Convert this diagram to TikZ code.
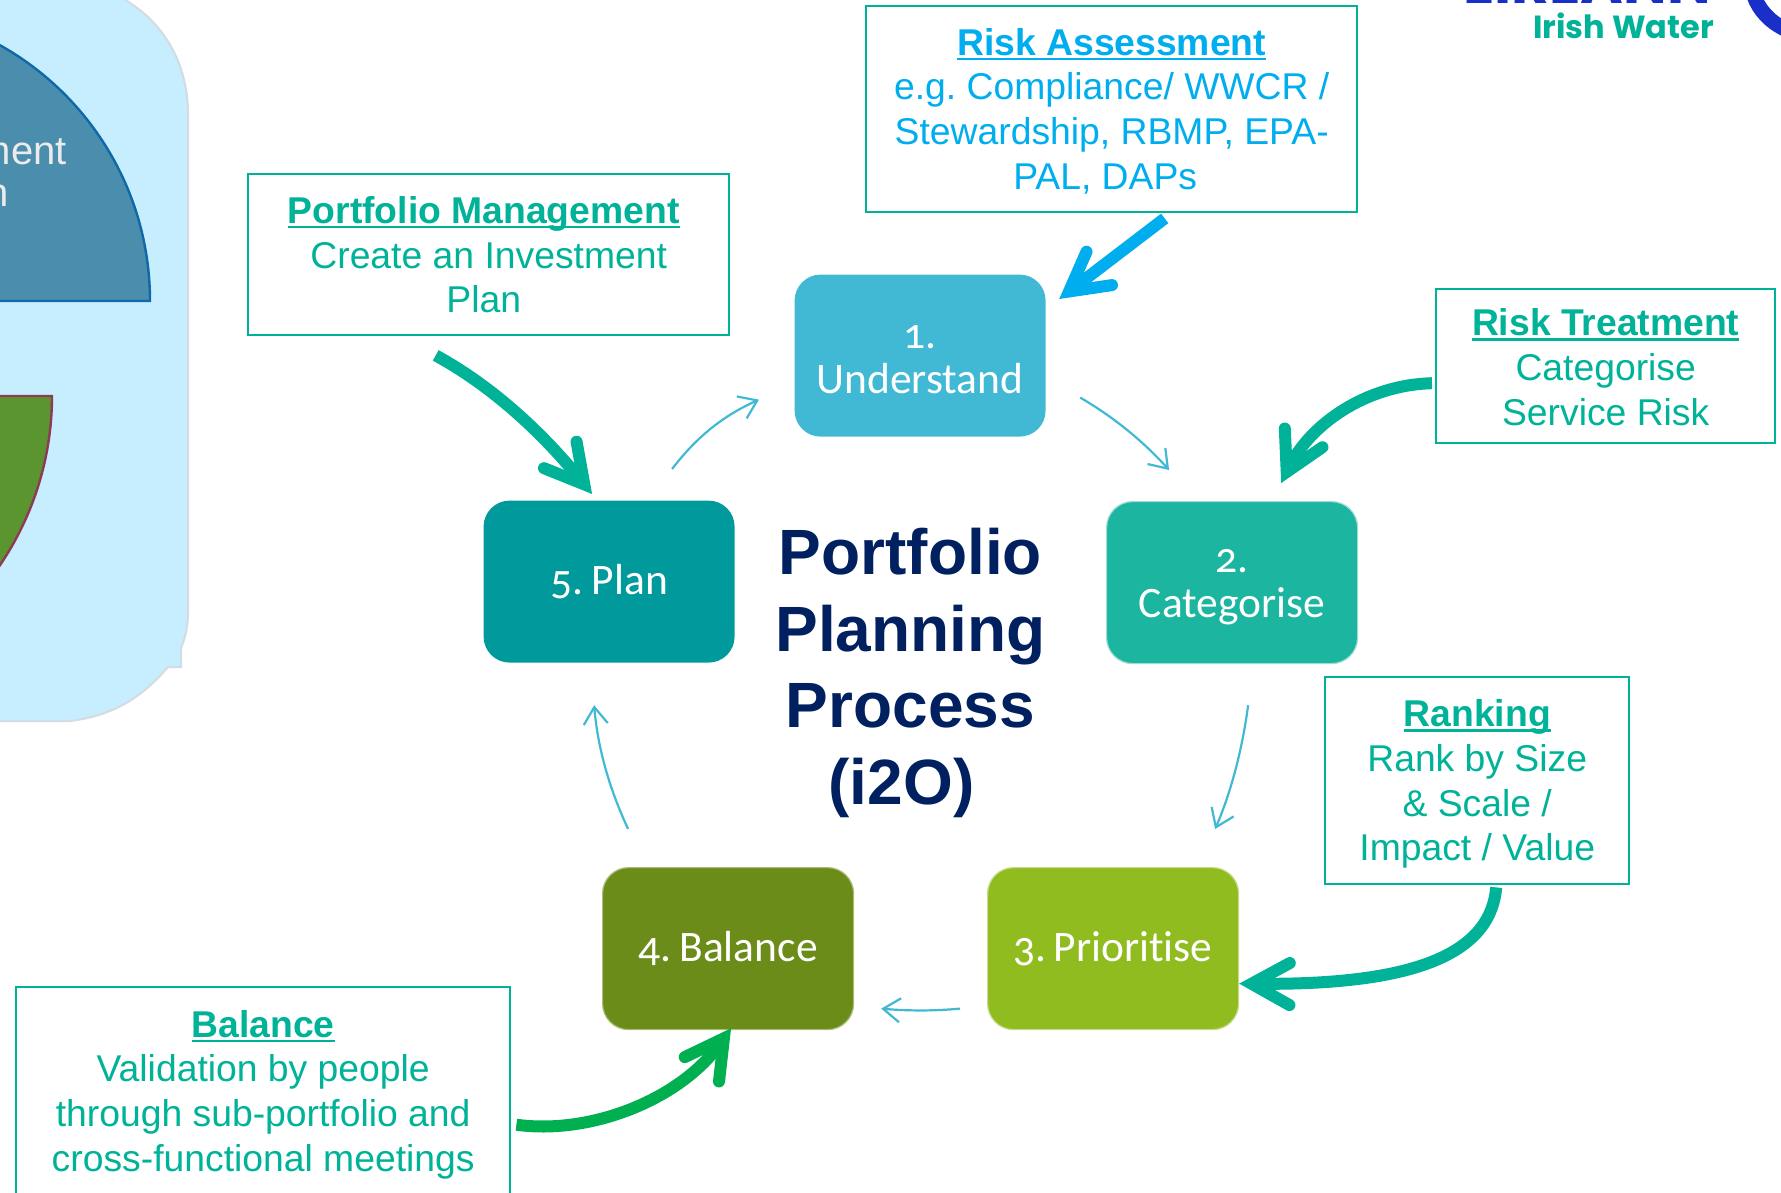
\documentclass[tikz,border=0pt]{standalone}
\usepackage{fontspec}
\setmainfont{Liberation Sans}
\newfontfamily\stepfont[Numbers=OldStyle,Ligatures=NoCommon]{Carlito}
\newfontfamily\logofont{Poppins}
\usetikzlibrary{arrows.meta}
\definecolor{teal1}{HTML}{00B398}
\definecolor{sky1}{HTML}{00AEEF}
\definecolor{thin1}{HTML}{41B9D4}
\definecolor{navy1}{HTML}{002060}
\definecolor{panel1}{HTML}{C6EEFF}
\definecolor{panelline}{HTML}{D2DCE2}
\definecolor{green1}{HTML}{00B050}
\definecolor{bluewedge}{HTML}{4A8DAD}
\definecolor{bluewedgeline}{HTML}{0F69A8}
\definecolor{greenwedge}{HTML}{5B9530}
\definecolor{greenwedgeline}{HTML}{8E3A55}
\definecolor{logoblue}{HTML}{1A2FC8}
\definecolor{catfill}{HTML}{1BB5A0}
\definecolor{catline}{HTML}{9FDDD2}
\definecolor{planfill}{HTML}{009A9C}
\definecolor{balfill}{HTML}{6C8C1A}
\definecolor{balline}{HTML}{A9BE78}
\definecolor{prifill}{HTML}{90BC20}
\definecolor{priline}{HTML}{C6DC8C}
\newcommand{\ulbold}[1]{\setbox0\hbox{\textbf{#1}}\rlap{\rule[-5pt]{\wd0}{2.6pt}}\box0}
\newcommand{\topstrut}[1]{\rule{0pt}{#1pt}}
\tikzset{
  stepbox/.style={rectangle,rounded corners=26pt,minimum width=251pt,minimum height=162pt,anchor=north west,
    text=white,align=center,inner sep=0pt,line width=1.2pt,
    font=\stepfont\fontsize{43.5}{45}\selectfont},
  infobox/.style={rectangle,draw=teal1,line width=2.4pt,fill=white,anchor=north west,align=center,inner sep=0pt,
    text=teal1,font=\fontsize{37.3}{44.7}\selectfont},
  thinarrow/.style={draw=thin1,line width=2.2pt,-{Straight Barb[length=17pt,width=24pt,line width=2.2pt]}},
  thickarrow/.style={line width=12pt,-{Straight Barb[length=38pt,width=42pt,line width=12pt,line cap=round,line join=miter]}},
}
\begin{document}
\begin{tikzpicture}[x=1pt,y=-1pt]
\useasboundingbox (0,0) rectangle (1781,1192);
\fill[white] (0,0) rectangle (1781,1192);
% left panel
\begin{scope}
\clip (0,0) rectangle (1781,1192);
\draw[fill=panel1,draw=panelline,line width=2pt] (-5,-10) -- (105,-10) .. controls (160,12) and (188,60) .. (188,114)
  -- (188,612) .. controls (188,625) and (186,636) .. (181,648) -- (181,667) -- (168,667)
  .. controls (140,700) and (110,716) .. (70,721) -- (-5,721) -- cycle;
\draw[fill=bluewedge,draw=bluewedgeline,line width=2.4pt] (-143,301) -- (150,301) arc[start angle=0,end angle=-90,radius=293] -- cycle;
\draw[fill=greenwedge,draw=greenwedgeline,line width=2.4pt] (-249,396) -- (52,396) arc[start angle=0,end angle=60,radius=301] -- cycle;
\end{scope}
\node[anchor=base east,text=white!92!black,inner sep=0pt,font=\fontsize{40}{44}\selectfont] (mentlabel) at (67,164) {ment};
\node[anchor=base east,text=white!92!black,inner sep=0pt,font=\fontsize{40}{44}\selectfont] (nlabel) at (9,206) {n};
% logo
\node[anchor=base east,text=logoblue,inner sep=0pt,font=\logofont\bfseries\fontsize{58}{60}\selectfont] (logotop) at (1711,3) {EIREANN};
\node[anchor=base east,text=teal1,inner sep=0pt,font=\logofont\bfseries\fontsize{32}{36}\selectfont] (logosub) at (1714,38) {Irish Water};
\draw[draw=logoblue,line width=15pt] (1754,-4) .. controls (1759,10) and (1770,22) .. (1785,29);
% steps
\node[stepbox,fill=thin1] (understand) at (794,274) {\topstrut{32}1.\\Understand};
\node[stepbox,fill=catfill,draw=catline] (categorise) at (1106,501) {\topstrut{32}2.\\Categorise};
\node[stepbox,fill=planfill] (plan) at (483,500) {5.\hspace{9pt}Plan};
\node[stepbox,fill=balfill,draw=balline] (balance) at (602,867) {4.\hspace{8pt}Balance};
\node[stepbox,fill=prifill,draw=priline] (prioritise) at (987,867) {3.\hspace{7pt}Prioritise};
% info boxes
\node[infobox,minimum width=491pt,minimum height=206pt,text=sky1] (riskbox) at (865,5) {\topstrut{31}\ulbold{Risk Assessment}\\e.g.\ Compliance/ WWCR /\\Stewardship, RBMP, EPA-\\PAL, DAPs\hspace*{13pt}};
\node[infobox,minimum width=481pt,minimum height=161pt] (portbox) at (247,173) {\ulbold{Portfolio Management}\hspace*{10pt}\\Create an Investment\\Plan\hspace*{10pt}};
\node[infobox,minimum width=339pt,minimum height=154pt] (treatbox) at (1435,288) {\topstrut{29}\ulbold{Risk Treatment}\\Categorise\\Service Risk};
\node[infobox,minimum width=304pt,minimum height=207pt] (rankbox) at (1324,676) {\topstrut{34}\ulbold{Ranking}\\Rank by Size\\\& Scale /\\Impact / Value};
\node[infobox,minimum width=494pt,minimum height=213pt] (balbox) at (15,986) {\topstrut{29}\ulbold{Balance}\\Validation by people\\through sub-portfolio and\\cross-functional meetings};
% centre title
\node[anchor=center,align=center,inner sep=0pt,text=navy1,font=\bfseries\fontsize{64}{76.7}\selectfont] (title) at (910.5,673) {Portfolio\\Planning\\Process\\(i2O)\hspace*{18pt}};
% connector ends
\coordinate (ucA) at ([shift={(34,42)}]understand.east);
\coordinate (ucB) at ([shift={(-63,-31)}]categorise.north);
\coordinate (cpA) at ([shift={(16,41)}]categorise.south);
\coordinate (cpB) at ([shift={(102,-38)}]prioritise.north);
\coordinate (pbA) at ([shift={(-27,60)}]prioritise.west);
\coordinate (pbB) at ([shift={(27,60)}]balance.east);
\coordinate (bpA) at ([shift={(-100,-38)}]balance.north);
\coordinate (bpB) at ([shift={(-15,42)}]plan.south);
\coordinate (puA) at ([shift={(63,-31)}]plan.north);
\coordinate (puB) at ([shift={(-35,44)}]understand.west);
\draw[thinarrow] (ucA) .. controls (1112,416) and (1142,440) .. (ucB);
\draw[thinarrow] (cpA) .. controls (1243,745) and (1232,790) .. (cpB);
\draw[thinarrow] (pbA) .. controls (935,1011) and (908,1011) .. (pbB);
\draw[thinarrow] (bpA) .. controls (610,790) and (598,750) .. (bpB);
\draw[thinarrow] (puA) .. controls (698,435) and (725,415) .. (puB);
% heavy arrows
\coordinate (raA) at ([shift={(53,5)}]riskbox.south);
\coordinate (raB) at ([shift={(13,25)}]understand.north east);
\coordinate (pfA) at ([shift={(-53,19)}]portbox.south);
\coordinate (pfB) at ([shift={(-17,-6)}]plan.north);
\coordinate (rtA) at ([shift={(-3,17)}]treatbox.west);
\coordinate (rtB) at ([shift={(-77,-18)}]categorise.north east);
\coordinate (rkA) at ([shift={(19,2)}]rankbox.south);
\coordinate (rkB) at ([shift={(0,35)}]prioritise.east);
\coordinate (blA) at ([shift={(5,31)}]balbox.east);
\coordinate (blB) at ([shift={(3,-2)}]balance.south);
\draw[thickarrow,draw=sky1] (raA) -- (raB);
\draw[thickarrow,draw=teal1] (pfA) .. controls (490,385) and (540,430) .. (pfB);
\draw[thickarrow,draw=teal1] (rtA) .. controls (1365,385) and (1310,425) .. (rtB);
\draw[thickarrow,draw=teal1] (rkA) .. controls (1490,960) and (1400,985) .. (rkB);
\draw[thickarrow,draw=green1] (blA) .. controls (590,1135) and (680,1100) .. (blB);
\end{tikzpicture}
\end{document}
